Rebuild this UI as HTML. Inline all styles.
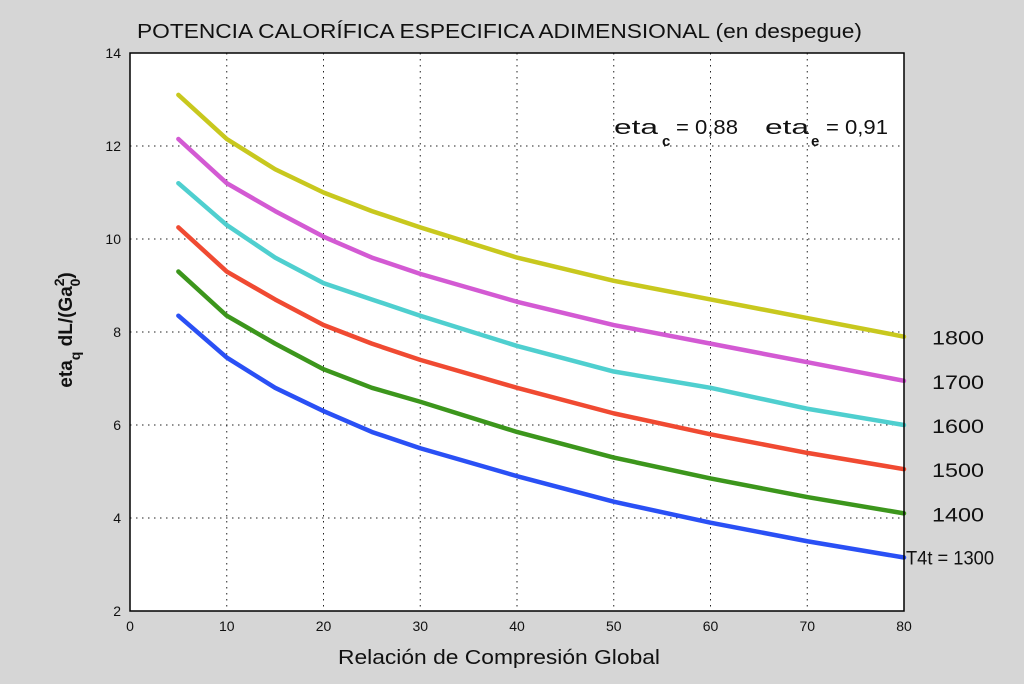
<!DOCTYPE html>
<html><head><meta charset="utf-8"><style>
body{margin:0;background:#d6d6d6;width:1024px;height:679px;overflow:hidden;font-family:"Liberation Sans",sans-serif}
</style></head><body>
<svg width="1024" height="679" id="svg" style="font-family:'Liberation Sans',sans-serif">
<rect width="1024" height="679" fill="#d6d6d6"/>
<text x="137" y="38" textLength="725" lengthAdjust="spacingAndGlyphs" font-size="20" fill="#111">POTENCIA CALORÍFICA ESPECIFICA ADIMENSIONAL (en despegue)</text>
<rect x="130" y="53" width="774" height="558" fill="#fff"/>
<g id="grid"></g>
<g id="series"></g>
<rect x="130" y="53" width="774" height="558" fill="none" stroke="#000" stroke-width="1.5"/>
<g id="ticks"></g>
<text x="338" y="664" textLength="322" lengthAdjust="spacingAndGlyphs" font-size="20" fill="#111">Relación de Compresión Global</text>
<text transform="translate(72,330) rotate(-90)" text-anchor="middle" font-size="19" font-weight="bold" fill="#111">eta<tspan font-size="14" dy="8">q</tspan><tspan dy="-8"> dL/(Ga</tspan><tspan font-size="14" dy="-8">2</tspan><tspan font-size="14" dx="-8" dy="16">0</tspan><tspan dy="-8">)</tspan></text>
<g font-size="20" fill="#111">
<text x="614" y="134" textLength="44" lengthAdjust="spacingAndGlyphs">eta</text>
<text x="662" y="146" font-size="15" font-weight="bold">c</text>
<text x="676" y="134" textLength="62" lengthAdjust="spacingAndGlyphs">= 0,88</text>
<text x="765" y="134" textLength="44" lengthAdjust="spacingAndGlyphs">eta</text>
<text x="811" y="146" font-size="15" font-weight="bold">e</text>
<text x="826" y="134" textLength="62" lengthAdjust="spacingAndGlyphs">= 0,91</text>
</g>
<g id="labels"></g>
</svg>
<script>
const xVals=[5,10,15,20,25,30,40,50,60,70,80];
const s1800=[13.1,12.15,11.5,11.0,10.6,10.25,9.6,9.1,8.7,8.3,7.9];
const s1700=[12.15,11.2,10.6,10.05,9.6,9.25,8.65,8.15,7.75,7.35,6.95];
const s1600=[11.2,10.3,9.6,9.05,8.7,8.35,7.7,7.15,6.8,6.35,6.0];
const s1500=[10.25,9.3,8.7,8.15,7.75,7.4,6.8,6.25,5.8,5.4,5.05];
const s1400=[9.3,8.35,7.75,7.2,6.8,6.5,5.85,5.3,4.85,4.45,4.1];
const s1300=[8.35,7.45,6.8,6.3,5.85,5.5,4.9,4.35,3.9,3.5,3.15];
const seriesNames=["1800","1700","1600","1500","1400","T4t = 1300"];
const colors=["#c8c81e","#d35ad3","#4fcfcf","#f04a32","#3c961c","#2a50f5"];
const xTicks=[0,10,20,30,40,50,60,70,80];
const yTicks=[2,4,6,8,10,12,14];
const X=v=>130+v*774/80, Y=v=>611-(v-2)*558/12;
const NS="http://www.w3.org/2000/svg";
function mk(t,a,p){const e=document.createElementNS(NS,t);for(const k in a)e.setAttribute(k,a[k]);p.appendChild(e);return e;}
const grid=document.getElementById('grid'),ticks=document.getElementById('ticks');
xTicks.forEach(v=>{
 if(v>0&&v<80){const l=mk('line',{x1:X(v),x2:X(v),y1:53,y2:611,stroke:'#222','stroke-dasharray':'1.5 4.5'},grid);
 }
 const t=mk('text',{x:X(v),y:631,'text-anchor':'middle','font-size':14,fill:'#111'},ticks);t.textContent=v;
 
});
yTicks.forEach(v=>{
 if(v>2&&v<14){const l=mk('line',{x1:130,x2:904,y1:Y(v),y2:Y(v),stroke:'#222','stroke-dasharray':'1.5 4.5'},grid);
 }
 const t=mk('text',{x:121,y:Y(v)+5,'text-anchor':'end','font-size':14,fill:'#111'},ticks);t.textContent=v;
 
});
const all=[s1800,s1700,s1600,s1500,s1400,s1300];
const sg=document.getElementById('series'),lg=document.getElementById('labels');
all.forEach((s,i)=>{
 const p=mk('polyline',{points:s.map((v,j)=>X(xVals[j])+','+Y(v)).join(' '),fill:'none',stroke:colors[i],'stroke-width':4.5,'stroke-linejoin':'round','stroke-linecap':'round'},sg);
 
 
 const last=s[s.length-1];
 const isLast=i===5;
 const t=mk('text',{x:isLast?906:932,y:Y(last)+(isLast?7:8),'font-size':19,fill:'#111',textLength:isLast?88:52,lengthAdjust:'spacingAndGlyphs'},lg);
 t.textContent=seriesNames[i];
 
 
});
</script>
</body></html>
